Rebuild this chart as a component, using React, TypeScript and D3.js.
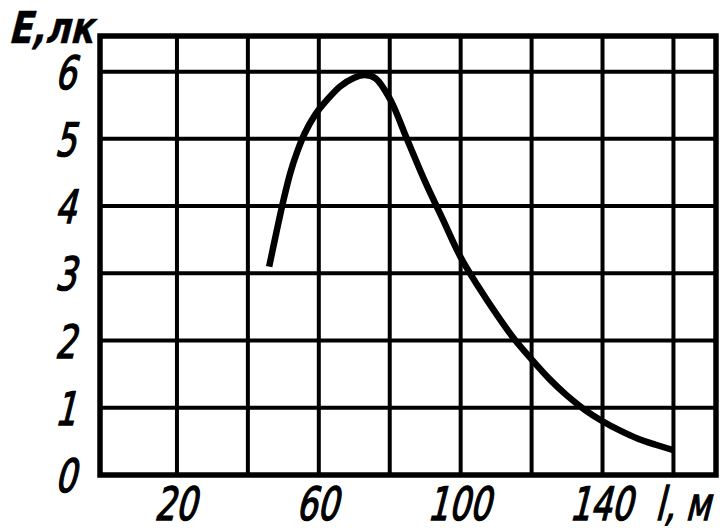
import React from 'react';
import * as d3 from 'd3';

const distances = [46, 48, 50, 52, 54, 56, 59, 62, 66, 70, 73, 76, 80, 85, 90, 95, 100, 105, 110, 115, 120, 125, 130, 135, 140, 145, 150, 155, 160];
const illuminance = [3.1, 3.6, 4.08, 4.5, 4.82, 5.08, 5.36, 5.56, 5.78, 5.91, 5.95, 5.9, 5.6, 4.98, 4.36, 3.8, 3.24, 2.8, 2.4, 2.03, 1.72, 1.43, 1.18, 0.97, 0.8, 0.66, 0.54, 0.45, 0.37];
const xTickLabels = [20, 60, 100, 140];
const xGridValues = [20, 40, 60, 80, 100, 120, 140, 160];
const yTickLabels = [0, 1, 2, 3, 4, 5, 6];
const xAxisTitle = 'l, м';
const yAxisTitle = 'E,лк';

const W = 727;
const H = 530;
const FONT = "'DejaVu Sans', sans-serif";

function Label(props: {
  x: number;
  y: number;
  text: string;
  anchor?: 'start' | 'middle' | 'end';
  size?: number;
  sx?: number;
  bold?: boolean;
  stroke?: number;
}) {
  const { x, y, text, anchor = 'middle', size = 46, sx = 0.72, bold = false, stroke = 1.4 } = props;
  return (
    <text
      transform={`translate(${x},${y}) skewX(-14) scale(${sx},1)`}
      textAnchor={anchor}
      fontFamily={FONT}
      fontWeight={bold ? 'bold' : 'normal'}
      fontSize={size}
      fill="#000"
      stroke="#000"
      strokeWidth={stroke}
    >
      {text}
    </text>
  );
}

export default function App() {
  const x = d3.scaleLinear().domain([-1.7, 172]).range([100, 716]);
  const y = d3.scaleLinear().domain([0, 6.53]).range([475, 36]);
  const [x0, x1] = x.range();
  const [y0, y1] = y.range();

  const pts: [number, number][] = distances.map((d, i) => [d, illuminance[i]]);
  const line = d3
    .line<[number, number]>()
    .x((d) => x(d[0]))
    .y((d) => y(d[1]))
    .curve(d3.curveCatmullRom.alpha(0.5));

  return (
    <svg
      width={W}
      height={H}
      style={{ position: 'absolute', left: 0, top: 0, background: '#fff' }}
    >
      <rect x={0} y={0} width={W} height={H} fill="#fff" />
      {xGridValues.map((v) => (
        <line key={'vx' + v} x1={x(v)} x2={x(v)} y1={y1} y2={y0} stroke="#000" strokeWidth={4} />
      ))}
      {yTickLabels
        .filter((v) => v > 0)
        .map((v) => (
          <line key={'hy' + v} x1={x0} x2={x1} y1={y(v)} y2={y(v)} stroke="#000" strokeWidth={4} />
        ))}
      <rect x={x0} y={y1} width={x1 - x0} height={y0 - y1} fill="none" stroke="#000" strokeWidth={5.5} />
      <path d={line(pts) || ''} fill="none" stroke="#000" strokeWidth={6.5} strokeLinecap="butt" strokeLinejoin="round" />
      {yTickLabels.map((v) => (
        <Label key={'yl' + v} x={65} y={y(v) + 17} text={String(v)} />
      ))}
      {xTickLabels.map((v) => (
        <Label key={'xl' + v} x={x(v) - 2} y={520} text={String(v)} />
      ))}
      <Label x={710} y={520} text={xAxisTitle} anchor="end" />
      <Label x={8} y={43} text={yAxisTitle} anchor="start" bold size={44} sx={0.78} stroke={0.5} />
    </svg>
  );
}
